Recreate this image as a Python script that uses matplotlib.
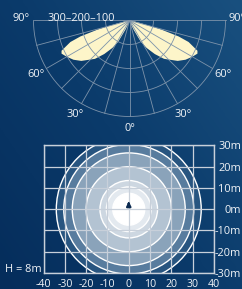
#-----------------------------------------------------------
#----- Curva fotométrica polar + diagrama isolux -----------
#-----------------------------------------------------------

import numpy as np
import matplotlib
matplotlib.use('Agg')
import matplotlib.pyplot as plt
from matplotlib.patches import Circle
from matplotlib.colors import LinearSegmentedColormap

plt.rcParams['font.family'] = ['Open Sans', 'DejaVu Sans']

#------------------------- Datos -------------------------
# curva polar (cd/klm) en funcion del angulo gamma desde el nadir
gamma = [0, 15, 20, 24, 28, 32, 37, 42, 50, 55, 60, 64, 66, 70, 72, 74, 75, 76, 78, 82, 90]
intensidad = [5, 8, 15, 42, 100, 135, 175, 215, 262, 285, 302, 315, 310, 262, 215, 140, 90, 55, 25, 8, 0]

anillos_cd = [100, 200, 300, 400]
angulos_grid = [-90, -75, -60, -45, -30, -15, 0, 15, 30, 45, 60, 75, 90]
angulos_etiq = [-90, -60, -30, 0, 30, 60, 90]
texto_anillos = '300\u2013200\u2013100'

# isolux (radios en m) y colores de relleno
radios_iso = [34, 30.5, 26.5, 20, 13.5, 10.5, 7.5]
colores_iso = ['#285580', '#587c9e', '#8aa3ba', '#b3c3d2', '#cdd7e1', '#e3e9ef', '#ffffff']
ticks_x = [-40, -30, -20, -10, 0, 10, 20, 30, 40]
ticks_y = [-30, -20, -10, 0, 10, 20, 30]
altura = 'H = 8m'

COLOR_TEXTO = '#f2f5f8'
COLOR_GRID_POLAR = '#7d93aa'
COLOR_LOBULO = '#fdf5c9'
COLOR_GRID = '#c8d0da'
TAM = 7.9


#------------------------- Funciones -------------------------
def fondo(fig):
    bg = fig.add_axes([0, 0, 1, 1], zorder=-10)
    cmap = LinearSegmentedColormap.from_list('fondo', ['#052d5b', '#0b3b6b', '#19507f'])
    xx, yy = np.meshgrid(np.linspace(0, 1, 200), np.linspace(0, 1, 200))
    grad = 0.55 * xx + 0.45 * yy
    bg.imshow(grad, cmap=cmap, extent=[0, 1, 0, 1], origin='lower', aspect='auto')
    bg.axis('off')


def polar(fig):
    ax = fig.add_axes([0, 0.5502, 1, 0.4498])
    ax.set_xlim(-539.6, 468.75)
    ax.set_ylim(-456.25, 85.4)
    ax.axis('off')

    g = np.radians(gamma)
    I = np.array(intensidad)
    for lado in (-1, 1):
        xs = np.concatenate([[0], lado * I * np.sin(g), [0]])
        ys = np.concatenate([[0], -I * np.cos(g), [0]])
        ax.fill(xs, ys, color=COLOR_LOBULO, lw=0, zorder=1)

    t = np.radians(np.linspace(-90, 90, 200))
    for r in anillos_cd:
        ax.plot(r * np.sin(t), -r * np.cos(t), color=COLOR_GRID_POLAR, lw=0.6, zorder=2)
    rmax = max(anillos_cd)
    for a in angulos_grid:
        ar = np.radians(a)
        ax.plot([0, rmax * np.sin(ar)], [0, -rmax * np.cos(ar)],
                color=COLOR_GRID_POLAR, lw=0.6, zorder=2)

    for a in angulos_etiq:
        ar = np.radians(a)
        ax.text(450 * np.sin(ar), -450 * np.cos(ar) + (10 if abs(a) == 90 else 0),
                f'{abs(a)}\u00b0', color=COLOR_TEXTO, fontsize=TAM,
                ha='center', va='center')

    ax.text(-200, 9, texto_anillos, color=COLOR_TEXTO, fontsize=TAM,
            ha='center', va='center', zorder=3)


def isolux(fig):
    ax = fig.add_axes([0.1798, 0.0554, 0.7045, 0.4412])
    ax.set_facecolor('none')
    ax.set_xlim(ticks_x[0], ticks_x[-1])
    ax.set_ylim(ticks_y[0], ticks_y[-1])

    for r, c in zip(radios_iso, colores_iso):
        ax.add_patch(Circle((0, 0), r, facecolor=c, edgecolor='white',
                            lw=1.0, zorder=1))

    ax.annotate('', xy=(0, 5), xytext=(0, 0.8),
                arrowprops=dict(arrowstyle='-|>', color='#0b2a50', lw=1.6,
                                mutation_scale=6), zorder=4)

    ax.set_xticks(ticks_x)
    ax.set_yticks(ticks_y)
    ax.set_xticklabels([str(v) for v in ticks_x])
    ax.set_yticklabels([f'{v}m' for v in ticks_y], ha='right')
    ax.yaxis.tick_right()
    ax.tick_params(axis='x', length=0, pad=4.0, labelsize=7.6, labelcolor=COLOR_TEXTO)
    ax.tick_params(axis='y', length=0, pad=19.5, labelsize=TAM, labelcolor=COLOR_TEXTO)
    ax.set_axisbelow(False)
    ax.grid(True, color=COLOR_GRID, lw=0.9)
    for s in ax.spines.values():
        s.set_color(COLOR_GRID)
        s.set_linewidth(1.0)

    ax.text(-0.01, 0.03, altura, transform=ax.transAxes, color=COLOR_TEXTO,
            fontsize=TAM, ha='right', va='center')


# ------------------------- Se ejecuta el programa -------------------------
fig = plt.figure(figsize=(2.42, 2.89), dpi=100)
fondo(fig)
polar(fig)
isolux(fig)
fig.savefig('out.png', dpi=100)
